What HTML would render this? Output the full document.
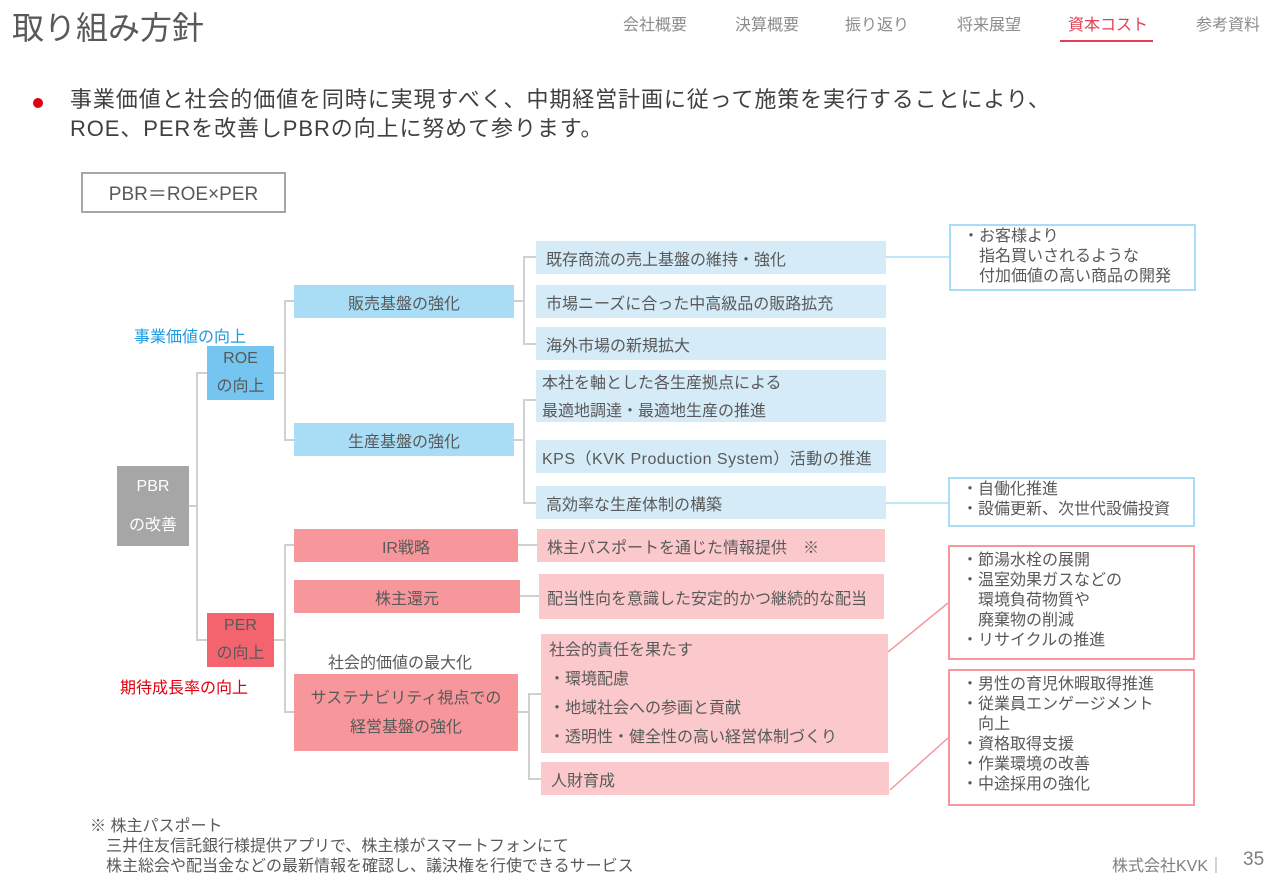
<!DOCTYPE html>
<html><head><meta charset="utf-8"><style>
body{margin:0;width:1280px;height:886px;background:#fff;position:relative;overflow:hidden;font-family:"Liberation Sans","Noto Sans CJK JP",sans-serif;color:#595959}
.a{position:absolute;box-sizing:border-box}
.c{display:flex;align-items:center;justify-content:center;text-align:center}
.l{display:flex;align-items:center;padding-left:10px}
.t{font-size:16px}
.nav{position:absolute;top:11px;font-size:16px;color:#8c8c8c}
.lb{background:#d5ebf8}.mb{background:#a9ddf5}
.lp{background:#fbc9cc}.mp{background:#f7979b}
.rb{border:2px solid #a9ddf5;background:#fff;font-size:16px;line-height:20px;padding:1px 0 0 12px}
.rp{border:2px solid #f7979b;background:#fff;font-size:16px;line-height:20px;padding:4px 0 0 12px}
</style></head><body>
<div class="a" style="left:12px;top:3px;font-size:32px">取り組み方針</div>
<div class="nav" style="left:623px">会社概要</div>
<div class="nav" style="left:735px">決算概要</div>
<div class="nav" style="left:845px">振り返り</div>
<div class="nav" style="left:957px">将来展望</div>
<div class="nav" style="left:1068px;color:#e04050">資本コスト</div>
<div class="a" style="left:1060px;top:40px;width:93px;height:2px;background:#e04050"></div>
<div class="nav" style="left:1196px">参考資料</div>
<div class="a" style="left:33px;top:98px;width:10px;height:10px;border-radius:50%;background:#e0000f"></div>
<div class="a" style="left:70px;top:85px;font-size:22px;line-height:29px;color:#404040;white-space:nowrap;letter-spacing:0.9px">事業価値と社会的価値を同時に実現すべく、中期経営計画に従って施策を実行することにより、<br>ROE、PERを改善しPBRの向上に努めて参ります。</div>
<div class="a c" style="left:81px;top:172px;width:205px;height:41px;border:2px solid #a6a6a6;font-size:19px">PBR＝ROE×PER</div>

<svg class="a" style="left:0;top:0" width="1280" height="886"><g stroke="#d0d0d0" stroke-width="2" fill="none">
<path d="M189 506H197M207 373H197V640H207M274 373H285M294 301H285V440H294M274 640H285M294 545H285V712H294"/>
<path d="M514 301H524M536 257H524V344H536M514 440H524M536 400H524V503H536M518 545H537M520 596H539M518 712H529M541 694H529V779H541"/>
</g>
<g stroke-width="1.5"><line x1="886" y1="257" x2="949" y2="257" stroke="#a9ddf5"/><line x1="886" y1="503" x2="948" y2="503" stroke="#a9ddf5"/>
<line x1="888" y1="652" x2="948" y2="603" stroke="#f7979b"/><line x1="890" y1="790" x2="948" y2="738" stroke="#f7979b"/></g></svg>

<div class="a c" style="left:117px;top:466px;width:72px;height:80px;background:#a6a6a6;color:#fff;font-size:16px;line-height:39px">PBR<br>の改善</div>
<div class="a c" style="left:207px;top:346px;width:67px;height:54px;background:#74c5ef;font-size:16px;line-height:28px">ROE<br>の向上</div>
<div class="a c" style="left:207px;top:613px;width:67px;height:54px;background:#f4646e;font-size:16px;line-height:28px">PER<br>の向上</div>
<div class="a t" style="left:134px;top:323px;color:#1e9be0">事業価値の向上</div>
<div class="a t" style="left:120px;top:674px;color:#e0000f">期待成長率の向上</div>

<div class="a c mb t" style="left:294px;top:285px;width:220px;height:33px">販売基盤の強化</div>
<div class="a c mb t" style="left:294px;top:423px;width:220px;height:33px">生産基盤の強化</div>
<div class="a c mp t" style="left:294px;top:529px;width:224px;height:33px">IR戦略</div>
<div class="a c mp t" style="left:294px;top:580px;width:226px;height:33px">株主還元</div>
<div class="a t" style="left:328px;top:649px">社会的価値の最大化</div>
<div class="a c mp t" style="left:294px;top:674px;width:224px;height:77px;line-height:29px">サステナビリティ視点での<br>経営基盤の強化</div>

<div class="a l lb t" style="left:536px;top:241px;width:350px;height:33px">既存商流の売上基盤の維持・強化</div>
<div class="a l lb t" style="left:536px;top:285px;width:350px;height:33px">市場ニーズに合った中高級品の販路拡充</div>
<div class="a l lb t" style="left:536px;top:327px;width:350px;height:33px">海外市場の新規拡大</div>
<div class="a lb t" style="left:536px;top:374px;width:350px;height:52px;padding-left:6px;line-height:28px;margin-top:-4px">本社を軸とした各生産拠点による<br>最適地調達・最適地生産の推進</div>
<div class="a l lb t" style="left:536px;top:440px;width:350px;height:33px;padding-left:6px;white-space:nowrap;letter-spacing:0.5px">KPS（KVK Production System）活動の推進</div>
<div class="a l lb t" style="left:536px;top:486px;width:350px;height:33px">高効率な生産体制の構築</div>
<div class="a l lp t" style="left:537px;top:529px;width:348px;height:33px">株主パスポートを通じた情報提供　※</div>
<div class="a l lp t" style="left:539px;top:574px;width:345px;height:45px;padding-left:8px;white-space:nowrap">配当性向を意識した安定的かつ継続的な配当</div>
<div class="a lp t" style="left:541px;top:634px;width:347px;height:119px;padding:2px 0 0 8px;line-height:29px">社会的責任を果たす<br>・環境配慮<br>・地域社会への参画と貢献<br>・透明性・健全性の高い経営体制づくり</div>
<div class="a l lp t" style="left:541px;top:762px;width:348px;height:33px">人財育成</div>

<div class="a rb" style="left:949px;top:224px;width:247px;height:67px">・お客様より<br>　指名買いされるような<br>　付加価値の高い商品の開発</div>
<div class="a rb" style="left:948px;top:477px;width:247px;height:50px">・自働化推進<br>・設備更新、次世代設備投資</div>
<div class="a rp" style="left:948px;top:545px;width:247px;height:115px">・節湯水栓の展開<br>・温室効果ガスなどの<br>　環境負荷物質や<br>　廃棄物の削減<br>・リサイクルの推進</div>
<div class="a rp" style="left:948px;top:669px;width:247px;height:137px">・男性の育児休暇取得推進<br>・従業員エンゲージメント<br>　向上<br>・資格取得支援<br>・作業環境の改善<br>・中途採用の強化</div>

<div class="a t" style="left:90px;top:817px;line-height:20px;white-space:nowrap">※ 株主パスポート<br>　三井住友信託銀行様提供アプリで、株主様がスマートフォンにて<br>　株主総会や配当金などの最新情報を確認し、議決権を行使できるサービス</div>
<div class="a t" style="left:1112px;top:852px;color:#7f7f7f">株式会社KVK｜</div>
<div class="a" style="left:1243px;top:849px;font-size:19px;color:#7f7f7f">35</div>
</body></html>
